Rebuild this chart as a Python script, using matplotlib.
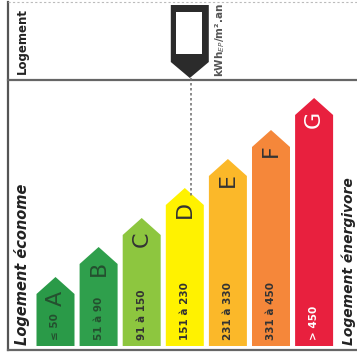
import matplotlib
matplotlib.use("Agg")
import matplotlib.pyplot as plt
from matplotlib.patches import Polygon, Rectangle

# ── data ──────────────────────────────────────────────────────────────────────
classes = ["A", "B", "C", "D", "E", "F", "G"]
ranges = ["≤ 50", "51 à 90", "91 à 150", "151 à 230", "231 à 330", "331 à 450", "> 450"]
heights = [69, 99, 128, 158, 187, 216, 248]   # arrow height above baseline (px)
colors = ["#2a9a48", "#2f9f4c", "#8dc63f", "#fff200", "#fbb829", "#f5873a", "#e8203e"]
text_colors = ["#24502f", "#24502f", "#333333", "#333333", "#333333", "#333333", "#ffffff"]
current_class = "D"

# ── layout (pixel space) ─────────────────────────────────────────────────────
W, H = 357, 356
BASE = 346
X0, STEP, BW, HEAD = 36.5, 43.1, 38, 17

fig = plt.figure(figsize=(W / 100, H / 100), dpi=100)
ax = fig.add_axes([0, 0, 1, 1])
ax.set_xlim(0, W)
ax.set_ylim(H, 0)
ax.axis("off")

# frame
ax.plot([8, 8], [2, 350], color="#555555", lw=1.6)
ax.plot([8, W], [80, 80], color="#666666", lw=1.6)
ax.plot([8, W], [350, 350], color="#666666", lw=1.6)
ax.plot([8, W], [2, 2], color="#bbbbbb", lw=0.8, ls=(0, (2, 2)))

# arrows
for i, (c, r, h, col, tc) in enumerate(zip(classes, ranges, heights, colors, text_colors)):
    x = X0 + i * STEP
    top = BASE - h
    pts = [(x, BASE), (x, top + HEAD), (x + BW / 2, top), (x + BW, top + HEAD), (x + BW, BASE)]
    ax.add_patch(Polygon(pts, closed=True, facecolor=col, edgecolor="none"))
    cx = x + BW / 2
    ax.text(cx, top + 21, c, rotation=90, ha="center", va="center",
            fontsize=16, color=tc)
    ax.text(cx, BASE - 6, r, rotation=90, ha="center", va="bottom",
            fontsize=7.5, fontweight="bold", color=tc)

# side labels
ax.text(22, 345, "Logement économe", rotation=90, ha="center", va="bottom",
        fontsize=10.5, fontweight="bold", fontstyle="italic", color="#222222")
ax.text(349, 345, "Logement énergivore", rotation=90, ha="center", va="bottom",
        fontsize=10, fontweight="bold", fontstyle="italic", color="#222222")
ax.text(22, 41, "Logement", rotation=90, ha="center", va="center",
        fontsize=8.5, fontweight="bold", color="#222222")

# marker for current class
k = classes.index(current_class)
mx = X0 + k * STEP + BW / 2 + 5
mk = [(mx - 19, 5), (mx + 19, 5), (mx + 19, 62), (mx, 78), (mx - 19, 62)]
ax.add_patch(Polygon(mk, closed=True, facecolor="#2b2b2b", edgecolor="none"))
ax.add_patch(Rectangle((mx - 14, 12), 26, 42, facecolor="white", edgecolor="none"))
ax.plot([mx + 1, mx + 1], [78, BASE - heights[k] + 8], color="#777777", lw=1.2,
        ls=(0, (1.5, 1.5)))
ax.text(mx + 30, 40, "kWh$_{EP}$/m².an", rotation=90, ha="center", va="center",
        fontsize=7.5, fontweight="bold", color="#555555")

fig.savefig("out.png", dpi=100)
